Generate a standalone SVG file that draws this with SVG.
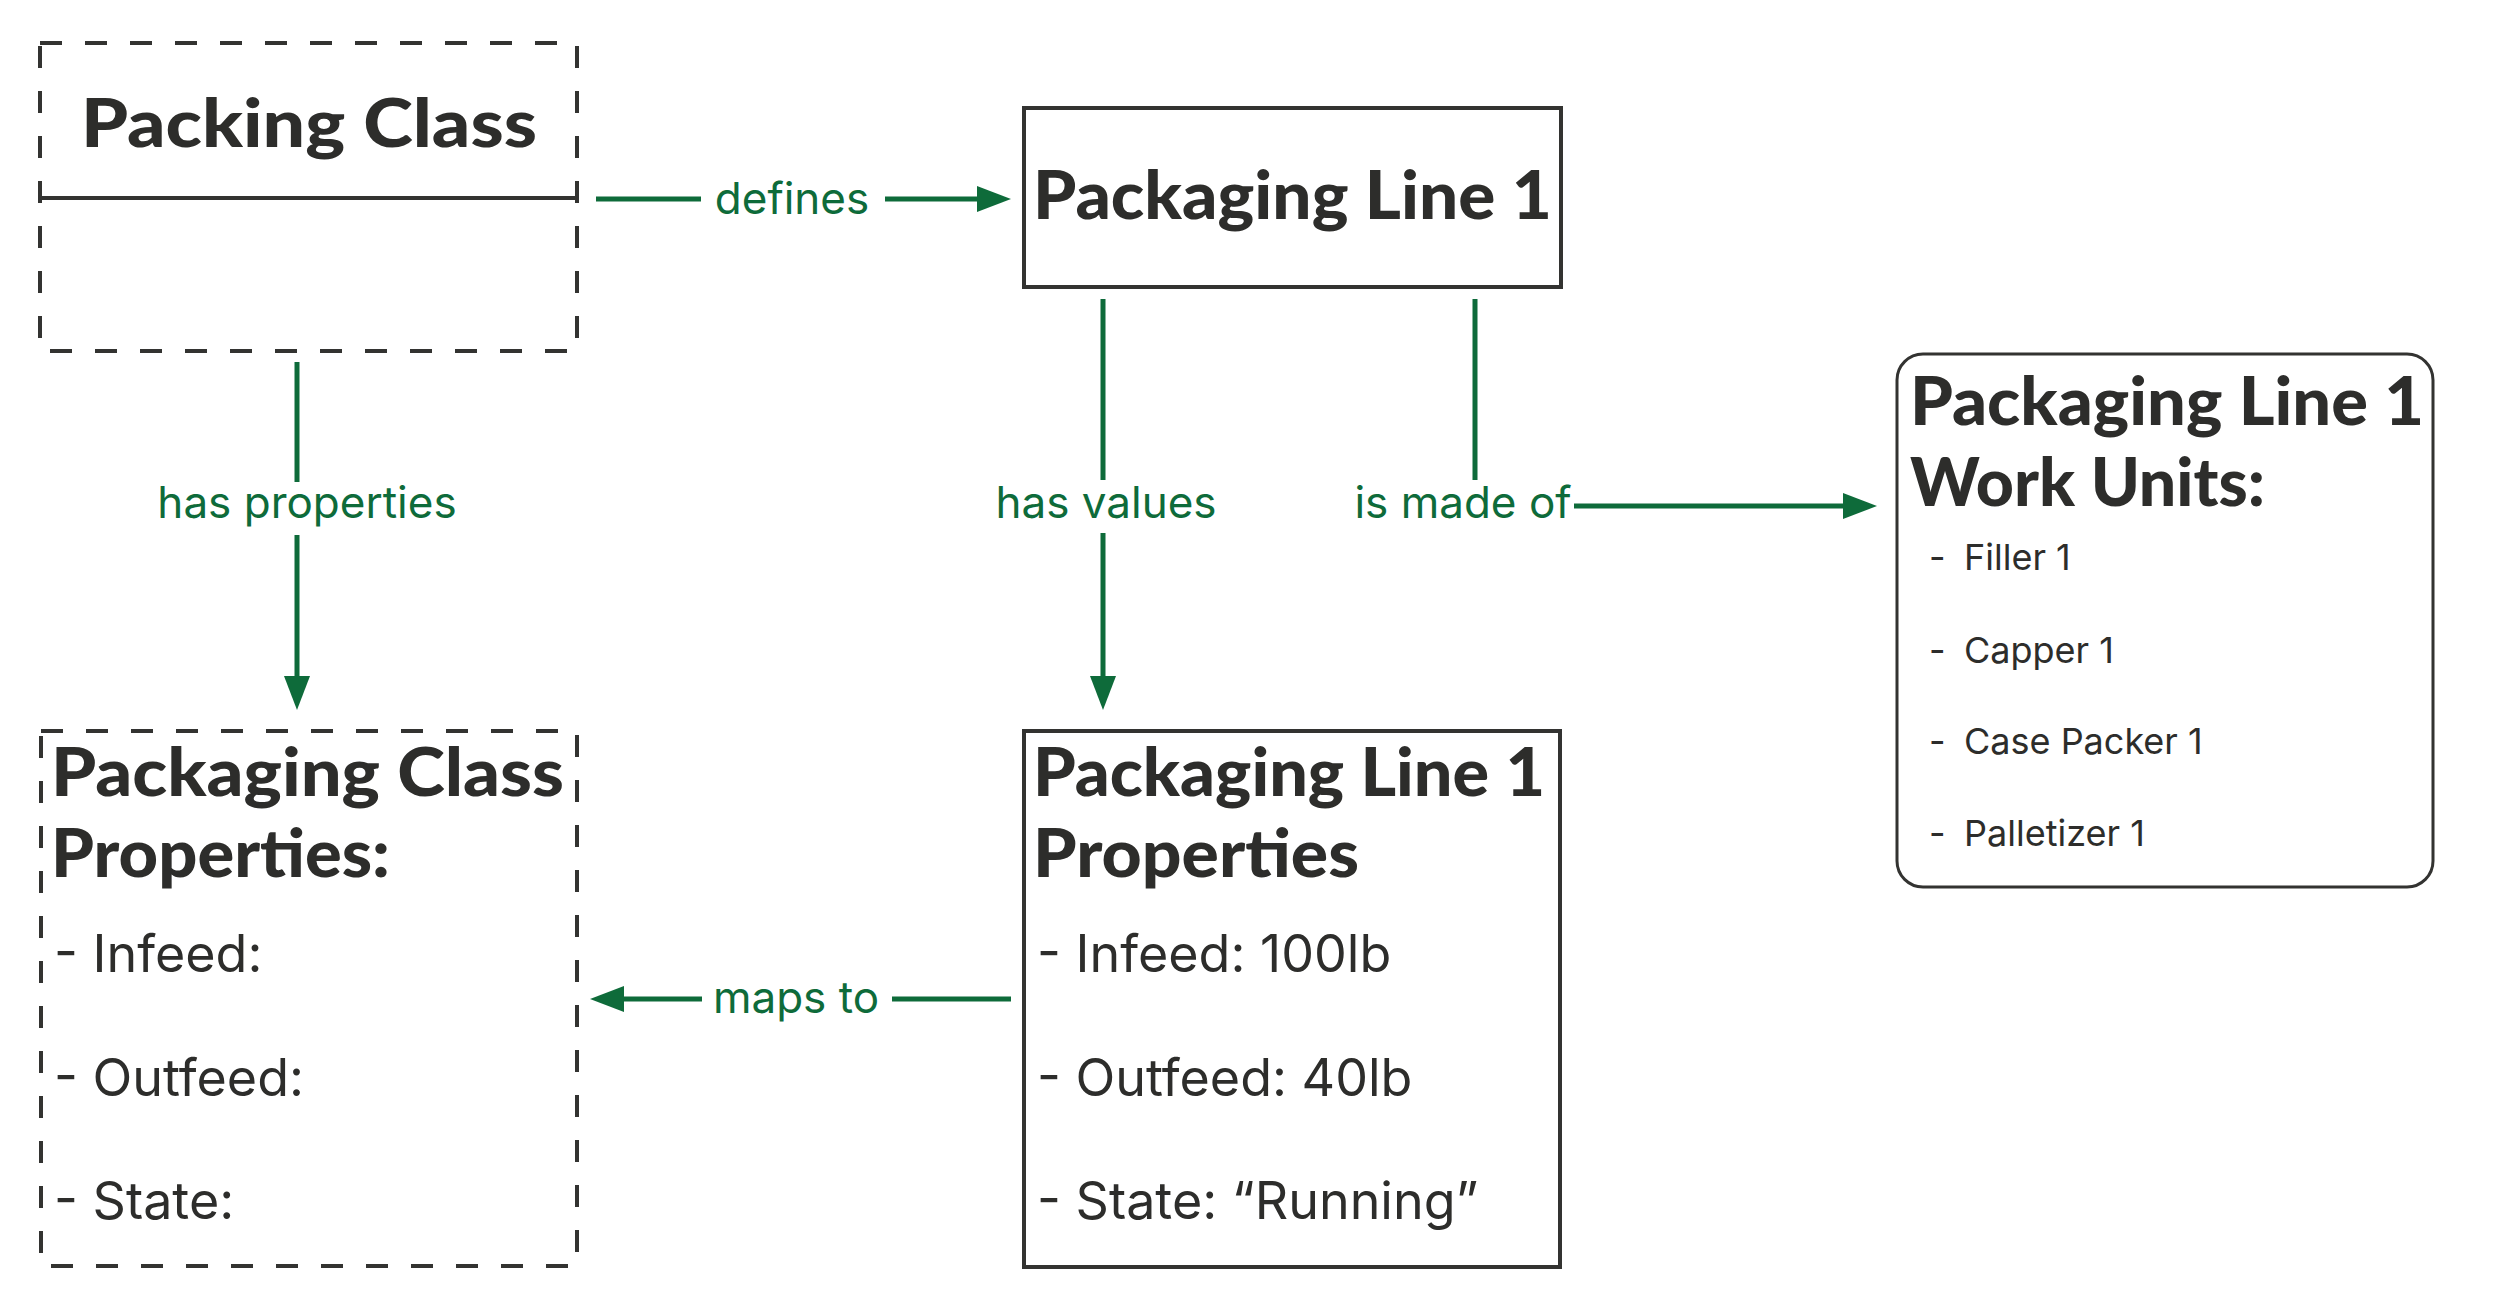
<svg xmlns="http://www.w3.org/2000/svg" width="2500" height="1309" viewBox="0 0 2500 1309">
<style>
.box{fill:#fff;stroke:#333331;stroke-width:4}
.dash{stroke-dasharray:22 23}
.title{font-family:Lato,"Noto Sans",sans-serif;font-weight:900;font-size:67px;fill:#2d2d2b}
.body{font-family:Inter,"Noto Sans",sans-serif;font-size:52px;fill:#2d2d2b}
.item{font-family:Inter,"Noto Sans",sans-serif;font-size:36px;fill:#2d2d2b}
.lbl{font-family:Inter,"Noto Sans",sans-serif;font-size:44px;fill:#0e6b3a}
.conn{fill:none;stroke:#0e6b3a;stroke-width:5}
</style>
<defs>
<marker id="arr" markerUnits="userSpaceOnUse" markerWidth="34" markerHeight="26" refX="0" refY="13" orient="auto" viewBox="0 0 34 26">
<path d="M0,0 L34,13 L0,26 z" fill="#0e6b3a"/>
</marker>
</defs>
<rect width="2500" height="1309" fill="#fff"/>

<g id="packing-class">
<rect class="box dash" x="40" y="43" width="537" height="308"/>
<line x1="40" y1="198" x2="577" y2="198" stroke="#333331" stroke-width="4"/>
<text class="title" x="81" y="147" textLength="456" lengthAdjust="spacingAndGlyphs">Packing Class</text>
</g>

<g id="packaging-line-1">
<rect class="box" x="1024" y="108" width="537" height="179"/>
<text class="title" x="1033" y="219" textLength="519" lengthAdjust="spacingAndGlyphs">Packaging Line 1</text>
</g>

<g id="work-units">
<rect class="box" x="1897" y="354" width="536" height="533" rx="26" ry="26" style="stroke-width:3"/>
<text class="title" x="1910" y="425" textLength="514" lengthAdjust="spacingAndGlyphs">Packaging Line 1</text>
<text class="title" x="1910" y="506" textLength="355" lengthAdjust="spacingAndGlyphs">Work Units:</text>
<text class="item" x="1929" y="570">-</text><text class="item" x="1964" y="570">Filler 1</text>
<text class="item" x="1929" y="663">-</text><text class="item" x="1964" y="663">Capper 1</text>
<text class="item" x="1929" y="754">-</text><text class="item" x="1964" y="754">Case Packer 1</text>
<text class="item" x="1929" y="846">-</text><text class="item" x="1964" y="846">Palletizer 1</text>
</g>

<g id="packaging-class-properties">
<rect class="box dash" x="41" y="731" width="536" height="535"/>
<text class="title" x="51" y="796" textLength="513" lengthAdjust="spacingAndGlyphs">Packaging Class</text>
<text class="title" x="51" y="877" textLength="339" lengthAdjust="spacingAndGlyphs">Properties:</text>
<text class="body" x="54" y="972">- Infeed:</text>
<text class="body" x="54" y="1096">- Outfeed:</text>
<text class="body" x="54" y="1219">- State:</text>
</g>

<g id="packaging-line-1-properties">
<rect class="box" x="1024" y="731" width="536" height="536"/>
<text class="title" x="1033" y="796" textLength="512" lengthAdjust="spacingAndGlyphs">Packaging Line 1</text>
<text class="title" x="1033" y="877" textLength="326" lengthAdjust="spacingAndGlyphs">Properties</text>
<text class="body" x="1037" y="972">- Infeed: 100lb</text>
<text class="body" x="1037" y="1096">- Outfeed: 40lb</text>
<text class="body" x="1037" y="1219">- State: “Running”</text>
</g>

<g id="connectors">
<path class="conn" d="M596,199 H701"/>
<path class="conn" d="M885,199 H977" marker-end="url(#arr)"/>
<text class="lbl" x="792" y="214" text-anchor="middle">defines</text>

<path class="conn" d="M297,362 V482"/>
<path class="conn" d="M297,535 V676" marker-end="url(#arr)"/>
<text class="lbl" x="307" y="518" text-anchor="middle">has properties</text>

<path class="conn" d="M1103,299 V480"/>
<path class="conn" d="M1103,533 V676" marker-end="url(#arr)"/>
<text class="lbl" x="1106" y="518" text-anchor="middle">has values</text>

<path class="conn" d="M1475,299 V480"/>
<path class="conn" d="M1574,506 H1843" marker-end="url(#arr)"/>
<text class="lbl" x="1463" y="518" text-anchor="middle">is made of</text>

<path class="conn" d="M1011,999 H892"/>
<path class="conn" d="M702,999 H624" marker-end="url(#arr)"/>
<text class="lbl" x="796" y="1013" text-anchor="middle">maps to</text>
</g>
</svg>
